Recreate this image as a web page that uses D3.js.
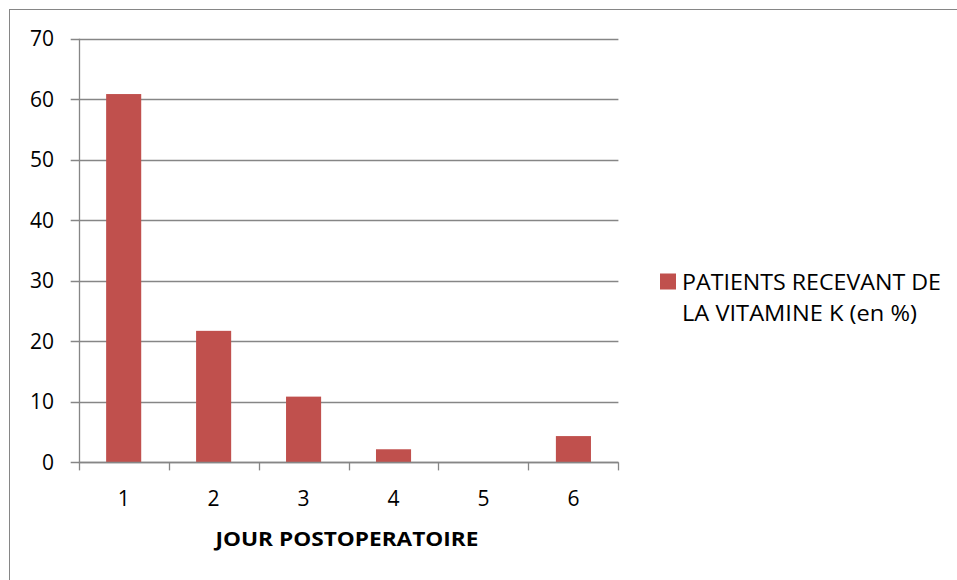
<!DOCTYPE html>
<html><head><meta charset="utf-8">
<script src="https://cdn.jsdelivr.net/npm/d3@7"></script>
<style>body{margin:0;background:#fff;}svg{display:block;}</style>
</head><body>
<script>
const categories = ["1","2","3","4","5","6"];
const values = [60.87, 21.74, 10.87, 2.17, 0, 4.35];
const yTicks = [0,10,20,30,40,50,60,70];
const seriesName = ["PATIENTS RECEVANT DE", "LA VITAMINE K (en %)"];
const xTitle = "JOUR POSTOPERATOIRE";

(function () {
const W = 957, H = 580;
const pLeft = 78.7, pRight = 618.4, pTop = 38.8, pBottom = 462.4;
const font = "'Open Sans', sans-serif";
const gray = "#868686";

const svg = d3.select("body").append("svg").attr("width", W).attr("height", H);
svg.append("rect").attr("x", 9.5).attr("y", 9.5).attr("width", W + 10).attr("height", H + 10)
  .attr("fill", "#fff").attr("stroke", gray).attr("stroke-width", 1);

const x = d3.scaleBand().domain(categories).range([pLeft, pRight]).paddingInner(0.61).paddingOuter(0.305);
const xb = d3.scaleBand().domain(categories).range([pLeft, pRight]);
const y = d3.scaleLinear().domain([0, 70]).range([pBottom, pTop]);

svg.append("g").selectAll("line").data(yTicks).join("line")
  .attr("x1", pLeft - 8).attr("x2", pRight)
  .attr("y1", d => Math.round(y(d)) + 0.5).attr("y2", d => Math.round(y(d)) + 0.5)
  .attr("stroke", gray).attr("stroke-width", 1.3);

svg.append("g").selectAll("text").data(yTicks).join("text")
  .attr("x", 54).attr("y", d => y(d)).attr("dy", "0.36em")
  .attr("text-anchor", "end").attr("font-family", font).attr("font-size", 21).attr("fill", "#000")
  .text(d => d);

svg.append("g").selectAll("rect").data(values).join("rect")
  .attr("x", (d, i) => x(categories[i])).attr("width", x.bandwidth())
  .attr("y", d => y(d)).attr("height", d => y(0) - y(d))
  .attr("fill", "#C0504D");

svg.append("line").attr("x1", Math.round(pLeft) + 0.5).attr("x2", Math.round(pLeft) + 0.5)
  .attr("y1", pTop).attr("y2", pBottom).attr("stroke", gray).attr("stroke-width", 1.3);
svg.append("line").attr("x1", pLeft).attr("x2", pRight)
  .attr("y1", Math.round(pBottom) + 0.5).attr("y2", Math.round(pBottom) + 0.5).attr("stroke", gray).attr("stroke-width", 1.3);
const bounds = categories.map(c => xb(c)).concat([pRight]);
svg.append("g").selectAll("line").data(bounds).join("line")
  .attr("x1", d => Math.round(d) + 0.5).attr("x2", d => Math.round(d) + 0.5)
  .attr("y1", pBottom).attr("y2", pBottom + 8).attr("stroke", gray).attr("stroke-width", 1.3);

svg.append("g").selectAll("text").data(categories).join("text")
  .attr("x", d => xb(d) + xb.bandwidth() / 2).attr("y", 505.5)
  .attr("text-anchor", "middle").attr("font-family", font).attr("font-size", 21).attr("fill", "#000")
  .text(d => d);

svg.append("text").attr("x", 215.5).attr("y", 545.5)
  .attr("font-family", font).attr("font-size", 20).attr("font-weight", "bold")
  .attr("textLength", 263).attr("lengthAdjust", "spacingAndGlyphs")
  .attr("fill", "#000").text(xTitle);

const legW = [259, 235];
svg.append("rect").attr("x", 660).attr("y", 273.5).attr("width", 16).attr("height", 16).attr("fill", "#C0504D");
svg.append("g").selectAll("text").data(seriesName).join("text")
  .attr("x", 682).attr("y", (d, i) => 289.5 + i * 31.5)
  .attr("font-family", font).attr("font-size", 21).attr("fill", "#000")
  .attr("textLength", (d, i) => legW[i]).attr("lengthAdjust", "spacingAndGlyphs")
  .text(d => d);
})();
</script>
</body></html>
